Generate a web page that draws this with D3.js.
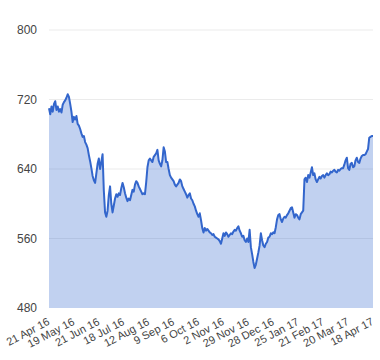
<!DOCTYPE html>
<html>
<head>
<meta charset="utf-8">
<script src="https://cdn.jsdelivr.net/npm/d3@7/dist/d3.min.js"></script>
<style>
  html, body { margin: 0; padding: 0; background: #fff; }
  svg { display: block; }
  text { font-family: Arial, "Liberation Sans", sans-serif; }
</style>
</head>
<body>
<svg id="chart" width="380" height="360"></svg>
<script>
// Daily closing values (trading days from 21 Apr 16 to 18 Apr 17)
const values = [
  710,703,712,706,715,718,708,712,706,709,705,714,717,719,722,726,723,715,706,694,
  700,697,701,692,690,686,681,677,678,671,668,664,656,649,641,632,627,624,635,646,
  652,640,648,657,615,590,585,592,610,620,600,590,598,606,611,608,612,610,618,624,
  619,612,607,603,606,604,610,616,614,622,626,624,620,617,614,611,612,611,625,642,
  650,652,650,648,654,656,658,662,650,646,643,650,665,660,648,648,640,633,630,628,
  626,622,620,622,624,628,626,620,617,614,611,607,610,612,606,604,600,597,592,588,
  585,589,581,572,567,572,569,571,569,567,566,564,565,562,561,560,559,557,554,560,
  566,563,567,565,562,564,566,565,568,570,569,572,574,569,566,562,563,558,556,560,
  556,570,550,542,533,526,530,537,544,552,566,558,552,550,554,556,561,562,566,565,
  567,566,573,582,587,588,582,579,583,585,584,587,589,592,595,596,590,584,588,587,
  584,582,588,590,592,628,630,625,633,630,636,642,633,635,628,625,628,631,629,632,
  633,630,633,635,633,634,637,636,638,639,637,636,639,638,640,641,641,645,650,653,
  641,639,646,647,642,643,650,653,648,647,652,655,656,656,657,660,663,676,677,678,
  678
];
// Category index of each x-axis label and its text
const tickIndex = [0, 20, 40, 60, 80, 100, 120, 140, 160, 180, 200, 220, 240, 260];
const tickLabels = ["21 Apr 16","19 May 16","21 Jun 16","18 Jul 16","12 Aug 16","9 Sep 16","6 Oct 16",
  "2 Nov 16","29 Nov 16","28 Dec 16","25 Jan 17","21 Feb 17","20 Mar 17","18 Apr 17"];
const yTicks = [480, 560, 640, 720, 800];

const svg = d3.select("#chart");
const mLeft = 49, mRight = 373, mTop = 30, mBottom = 308;

const x = d3.scaleLinear().domain([0, values.length - 1]).range([mLeft, mRight]);
const y = d3.scaleLinear().domain([480, 800]).range([mBottom, mTop]);

// gridlines
svg.append("g")
  .selectAll("line")
  .data(yTicks.filter(d => d !== 480))
  .join("line")
  .attr("x1", mLeft).attr("x2", mRight)
  .attr("y1", d => y(d)).attr("y2", d => y(d))
  .attr("stroke", "#ebebeb").attr("stroke-width", 1);

// area
const area = d3.area()
  .x((d, i) => x(i))
  .y0(y(480))
  .y1(d => y(d));
svg.append("path")
  .datum(values)
  .attr("d", area)
  .attr("fill", "#3366cc")
  .attr("fill-opacity", 0.3);

// line
const line = d3.line()
  .x((d, i) => x(i))
  .y(d => y(d));
svg.append("path")
  .datum(values)
  .attr("d", line)
  .attr("fill", "none")
  .attr("stroke", "#3366cc")
  .attr("stroke-width", 2)
  .attr("stroke-linejoin", "round");

// y axis
const yAxis = d3.axisLeft(y).tickValues(yTicks).tickSize(0).tickPadding(12).tickFormat(d3.format("d"));
const gy = svg.append("g").attr("transform", `translate(${mLeft},0)`).call(yAxis);
gy.select(".domain").remove();
gy.selectAll("text").attr("fill", "#444").attr("font-size", 12)
  .attr("font-family", "Arial, 'Liberation Sans', sans-serif");

// x axis
const xAxis = d3.axisBottom(x).tickValues(tickIndex).tickSize(0)
  .tickFormat((d, i) => tickLabels[i]);
const gx = svg.append("g").attr("transform", `translate(0,${mBottom})`).call(xAxis);
gx.select(".domain").remove();
gx.selectAll("text")
  .attr("fill", "#444").attr("font-size", 11)
  .attr("font-family", "Arial, 'Liberation Sans', sans-serif")
  .attr("text-anchor", "end")
  .attr("dy", null).attr("y", 0)
  .attr("transform", "translate(1,16) rotate(-28)");
</script>
</body>
</html>
